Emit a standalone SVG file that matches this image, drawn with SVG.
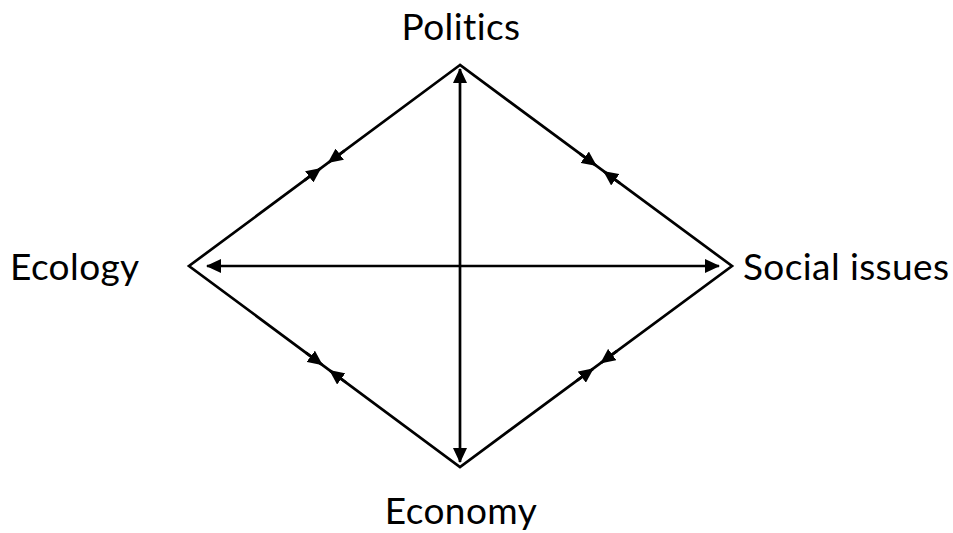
<svg xmlns="http://www.w3.org/2000/svg" width="953" height="533" viewBox="0 0 953 533">
<style>
.edge{fill:none;stroke:#000;stroke-width:2.7;stroke-linejoin:miter}
.lbl{font-family:Lato,"Open Sans","Liberation Sans",sans-serif;font-size:37px;letter-spacing:0.4px;fill:#000;font-variant-ligatures:none;font-feature-settings:"liga" 0,"clig" 0}
</style>
<defs>
<marker id="ah" viewBox="0 0 15 14" refX="14" refY="7" markerWidth="15" markerHeight="14" markerUnits="userSpaceOnUse" orient="auto-start-reverse">
<path d="M0,0 L15,7 L0,14 z" fill="#000"/>
</marker>
</defs>
<rect width="953" height="533" fill="#fff"/>
<g id="connectors">
<polygon class="edge" points="460,65 189,266 460,467 732,266"/>
<line class="edge" x1="460" y1="69" x2="460" y2="462" marker-start="url(#ah)" marker-end="url(#ah)"/>
<line class="edge" x1="207" y1="266" x2="719" y2="266" marker-start="url(#ah)" marker-end="url(#ah)"/>
<path class="edge" d="M344.6,150.6 L328.5,162.5" marker-end="url(#ah)"/>
<path class="edge" d="M304.4,180.4 L320.5,168.5" marker-end="url(#ah)"/>
<path class="edge" d="M579.9,153.65 L596,165.5" marker-end="url(#ah)"/>
<path class="edge" d="M620.1,183.35 L604,171.5" marker-end="url(#ah)"/>
<path class="edge" d="M305.9,352.7 L322,364.6" marker-end="url(#ah)"/>
<path class="edge" d="M346.1,382.5 L330,370.6" marker-end="url(#ah)"/>
<path class="edge" d="M617.1,350.95 L601,362.8" marker-end="url(#ah)"/>
<path class="edge" d="M576.9,380.65 L593,368.8" marker-end="url(#ah)"/>
</g>
<g id="politics"><text class="lbl" x="461" y="40" text-anchor="middle">Politics</text></g>
<g id="ecology"><text class="lbl" x="10" y="280">Ecology</text></g>
<g id="social"><text class="lbl" x="743" y="280">Social issues</text></g>
<g id="economy"><text class="lbl" x="461" y="524" text-anchor="middle">Economy</text></g>
</svg>
